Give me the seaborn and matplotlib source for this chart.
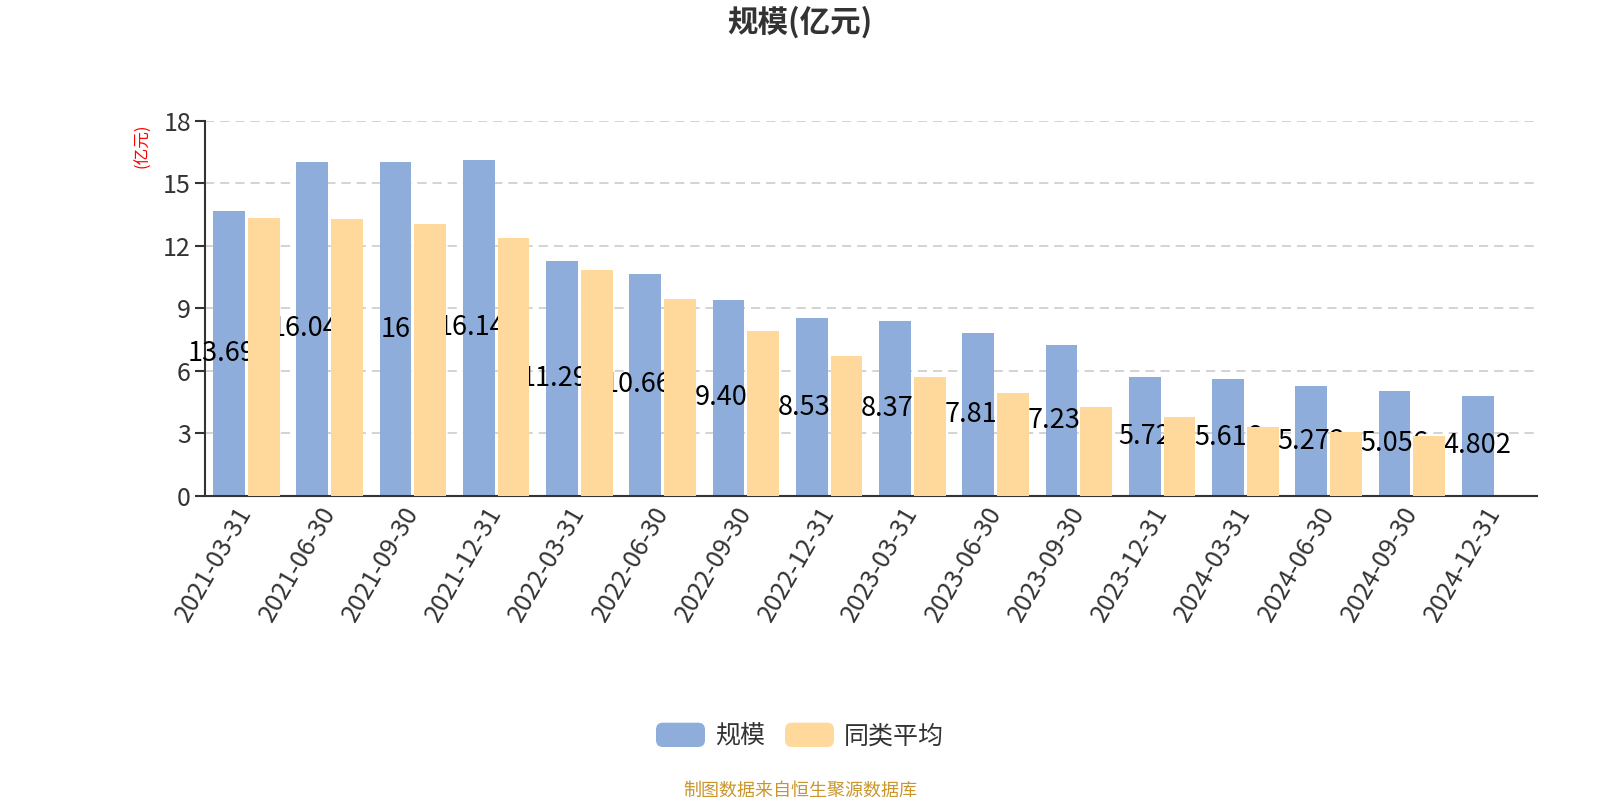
import pandas as pd
import numpy as np
import matplotlib
matplotlib.use("Agg")
import matplotlib.pyplot as plt
import seaborn as sns
from matplotlib.patches import Patch, FancyBboxPatch
from matplotlib.legend_handler import HandlerPatch

dates = ["2021-03-31", "2021-06-30", "2021-09-30", "2021-12-31",
         "2022-03-31", "2022-06-30", "2022-09-30", "2022-12-31",
         "2023-03-31", "2023-06-30", "2023-09-30", "2023-12-31",
         "2024-03-31", "2024-06-30", "2024-09-30", "2024-12-31"]
scale = [13.694, 16.043, 16, 16.142, 11.294, 10.662, 9.404, 8.539,
         8.376, 7.812, 7.234, 5.72, 5.616, 5.272, 5.056, 4.802]
peer_avg = [13.35, 13.30, 13.03, 12.39, 10.83, 9.45, 7.93, 6.72,
            5.73, 4.93, 4.26, 3.78, 3.29, 3.05, 2.87]  # no value for the last quarter
series_names = ["规模", "同类平均"]
yticks = [0, 3, 6, 9, 12, 15, 18]

blue = "#8EADDB"
orange = "#FFD99C"


class RoundHandler(HandlerPatch):
    # rounded legend swatches
    def create_artists(self, legend, orig_handle, xdescent, ydescent,
                       width, height, fontsize, trans):
        p = FancyBboxPatch((-xdescent, -ydescent), width, height,
                           boxstyle="round,pad=0,rounding_size=5",
                           facecolor=orig_handle.get_facecolor(),
                           edgecolor="none", transform=trans)
        return [p]


sns.set_theme(style="white")
plt.rcParams["font.family"] = ["Noto Sans CJK SC", "DejaVu Sans"]

# long table for seaborn
df = pd.concat([
    pd.DataFrame({"date": dates, "value": scale, "series": series_names[0]}),
    pd.DataFrame({"date": dates[:len(peer_avg)], "value": peer_avg, "series": series_names[1]}),
])

fig = plt.figure(figsize=(16, 8), dpi=100)
ax = fig.add_axes([0.128, 0.38, 0.8325, 0.469])

sns.barplot(data=df, x="date", y="value", hue="series", order=dates,
            hue_order=series_names, palette=[blue, orange], errorbar=None,
            width=0.836, gap=0.09, saturation=1, linewidth=0, legend=False, ax=ax)

# blue under the labels, orange over them (labels get clipped like the original)
for b in ax.containers[0]:
    b.set_zorder(2)
for b in ax.containers[1]:
    b.set_zorder(4)

offset = ax.containers[0][0].get_x() + ax.containers[0][0].get_width() / 2
for i, v in enumerate(scale):
    ax.text(i + offset, v / 2, f"{v:g}", ha="center", va="center",
            fontsize=19.5, color="black", zorder=3)

ax.set_xlim(-0.5, len(dates) - 0.5)
ax.set_ylim(0, 18)
ax.set_yticks(yticks)
ax.set_yticklabels([str(t) for t in yticks], fontsize=18, color="#333333")
ax.yaxis.grid(True, linestyle=(0, (5.5, 3.6)), color="#cccccc", linewidth=1.2)
ax.set_axisbelow(True)

ax.set_xticks(range(len(dates)))
ax.set_xticklabels(dates, rotation=60, ha="right", va="center",
                   rotation_mode="anchor", fontsize=18, color="#333333")
ax.set_xticks(np.arange(-0.5, len(dates)), minor=True)
ax.tick_params(axis="x", which="major", length=0, pad=9)
ax.tick_params(axis="x", which="minor", length=7, width=1.5, color="#333333")
ax.tick_params(axis="y", length=7, width=1.5, color="#333333", left=True, pad=3)
ax.set_xlabel("")
ax.set_ylabel("")

sns.despine(ax=ax)
for s in ["left", "bottom"]:
    ax.spines[s].set_color("#333333")
    ax.spines[s].set_linewidth(1.5)

fig.text(0.5, 0.972, "规模(亿元)", ha="center", va="center",
         fontsize=22, fontweight="bold", color="#333333")
fig.text(0.0895, 0.818, "(亿元)", ha="center", va="center", rotation=90,
         fontsize=12, color="red")

handles = [Patch(facecolor=blue, label=series_names[0]),
           Patch(facecolor=orange, label=series_names[1])]
fig.legend(handles=handles, loc="center", bbox_to_anchor=(0.5, 0.08),
           ncol=2, frameon=False, fontsize=18, handlelength=1.96,
           handleheight=1.12, columnspacing=0.8, handletextpad=0.4,
           labelcolor="#333333", handler_map={Patch: RoundHandler()})

fig.text(0.5, 0.012, "制图数据来自恒生聚源数据库", ha="center", va="center",
         fontsize=13, color="#C9962C")

fig.savefig("out.png", dpi=100)
